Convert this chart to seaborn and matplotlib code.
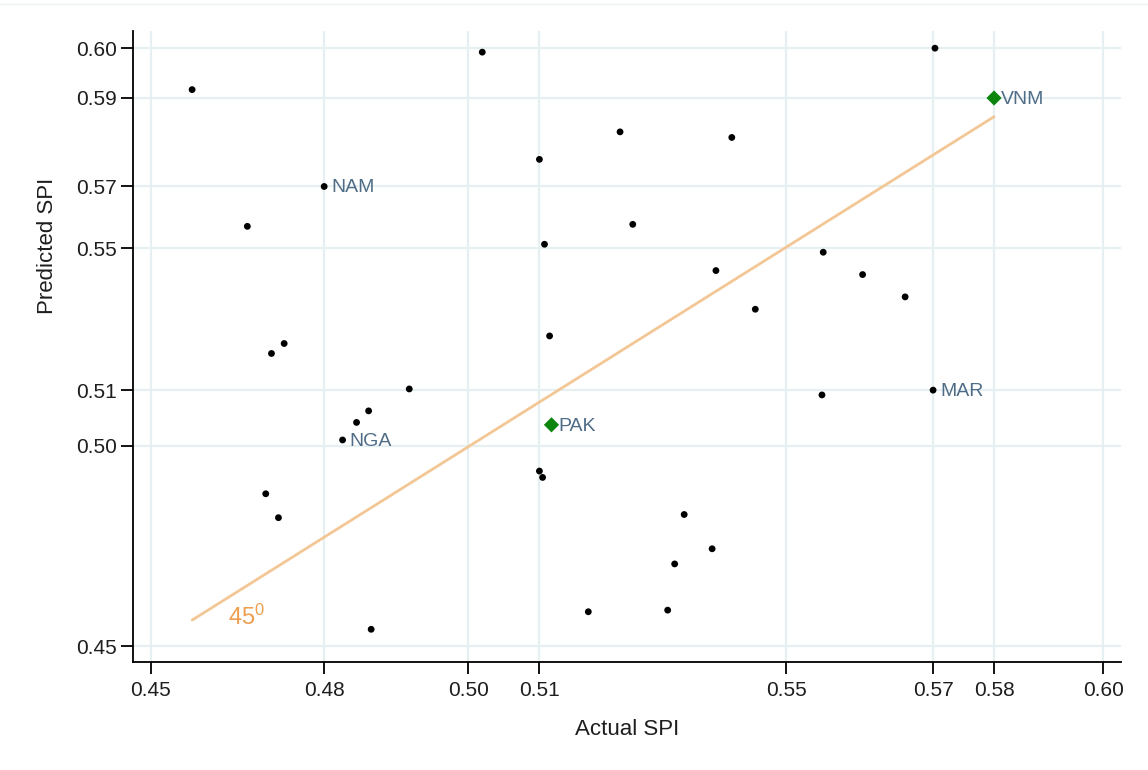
import numpy as np
import pandas as pd
import seaborn as sns
import matplotlib.pyplot as plt

# values
actual = [0.4565, 0.5022, 0.5735, 0.5239, 0.5415, 0.5112, 0.4652, 0.5259,
          0.5120, 0.5559, 0.5390, 0.5621, 0.5688, 0.5452, 0.5128, 0.4710,
          0.4690, 0.4907, 0.5557, 0.4843, 0.4824, 0.5112, 0.5117, 0.4681,
          0.4701, 0.5340, 0.5384, 0.5325, 0.5189, 0.5314, 0.4847]
predicted = [0.5896, 0.5990, 0.6000, 0.5790, 0.5776, 0.5721, 0.5553, 0.5558,
             0.5508, 0.5488, 0.5442, 0.5432, 0.5376, 0.5345, 0.5278, 0.5259,
             0.5234, 0.5145, 0.5130, 0.5090, 0.5061, 0.4939, 0.4923, 0.4882,
             0.4822, 0.4830, 0.4744, 0.4706, 0.4586, 0.4590, 0.4542]

# labelled countries (black dots)
lab_names = ['NAM', 'MAR', 'NGA']
lab_actual = [0.4773, 0.5732, 0.4802]
lab_pred = [0.5653, 0.5142, 0.5017]

# highlighted countries (green diamonds)
hi_names = ['VNM', 'PAK']
hi_actual = [0.5828, 0.5131]
hi_pred = [0.5875, 0.5055]

# tick positions and their labels
xticks = [0.45, 0.4773, 0.5000, 0.5112, 0.5501, 0.5732, 0.5828, 0.60]
xlabels = ['0.45', '0.48', '0.50', '0.51', '0.55', '0.57', '0.58', '0.60']
yticks = [0.45, 0.5002, 0.5142, 0.5498, 0.5654, 0.5875, 0.60]
ylabels = ['0.45', '0.50', '0.51', '0.55', '0.57', '0.59', '0.60']

sns.set_style('white')
plt.rcParams['font.family'] = ['Liberation Sans', 'DejaVu Sans']
plt.rcParams['mathtext.fontset'] = 'custom'
plt.rcParams['mathtext.rm'] = 'Liberation Sans'
plt.rcParams['mathtext.default'] = 'regular'

fig = plt.figure(figsize=(11.48, 7.70), dpi=100)
ax = fig.add_axes([0.1159, 0.1403, 0.8606, 0.8194])

# faint rule at the very top of the image
fig.add_artist(plt.Line2D([0, 1], [0.995, 0.995], color='#EEF2F3', lw=1,
                          transform=fig.transFigure))

all_x = actual + lab_actual + hi_actual

# 45 degree line over the range of actual values
lo, hi = min(all_x), max(all_x)
ax.plot([lo, hi], [lo, hi], color='#F3C795', lw=2, zorder=2)
ax.text(0.4622, 0.4573, r'45$^{0}$', color='#EE9E4E', fontsize=17,
        ha='left', va='center')

df = pd.DataFrame({'actual': actual + lab_actual, 'predicted': predicted + lab_pred})
sns.scatterplot(data=df, x='actual', y='predicted', color='black', s=24,
                edgecolor='none', ax=ax, zorder=3)
dh = pd.DataFrame({'actual': hi_actual, 'predicted': hi_pred})
sns.scatterplot(data=dh, x='actual', y='predicted', color='#0B850B', marker='D',
                s=60, edgecolor='none', ax=ax, zorder=3)

for n, x, y in zip(lab_names + hi_names, lab_actual + hi_actual, lab_pred + hi_pred):
    ax.annotate(n, (x, y), xytext=(5, -1), textcoords='offset points',
                ha='left', va='center', color='#4F6C86', fontsize=14)

ax.set_xlim(0.4472, 0.6028)
ax.set_ylim(0.4460, 0.6043)
ax.set_xticks(xticks)
ax.set_xticklabels(xlabels)
ax.set_yticks(yticks)
ax.set_yticklabels(ylabels)
ax.grid(True, color='#E6EFF1', lw=1.6)
ax.set_axisbelow(True)
ax.tick_params(direction='out', length=8.5, width=1.3, color='black',
               labelsize=15, labelcolor='#1E1E1E', left=True, bottom=True, pad=3)
ax.tick_params(axis='x', pad=5)
for s in ['top', 'right']:
    ax.spines[s].set_visible(False)
for s in ['left', 'bottom']:
    ax.spines[s].set_color('black')
    ax.spines[s].set_linewidth(1.3)

ax.set_xlabel('Actual SPI', fontsize=16, color='#1E1E1E', labelpad=14)
ax.set_ylabel('Predicted SPI', fontsize=16, color='#1E1E1E')
ax.yaxis.set_label_coords(-0.076, 0.659)

fig.savefig('out.png', dpi=100)
